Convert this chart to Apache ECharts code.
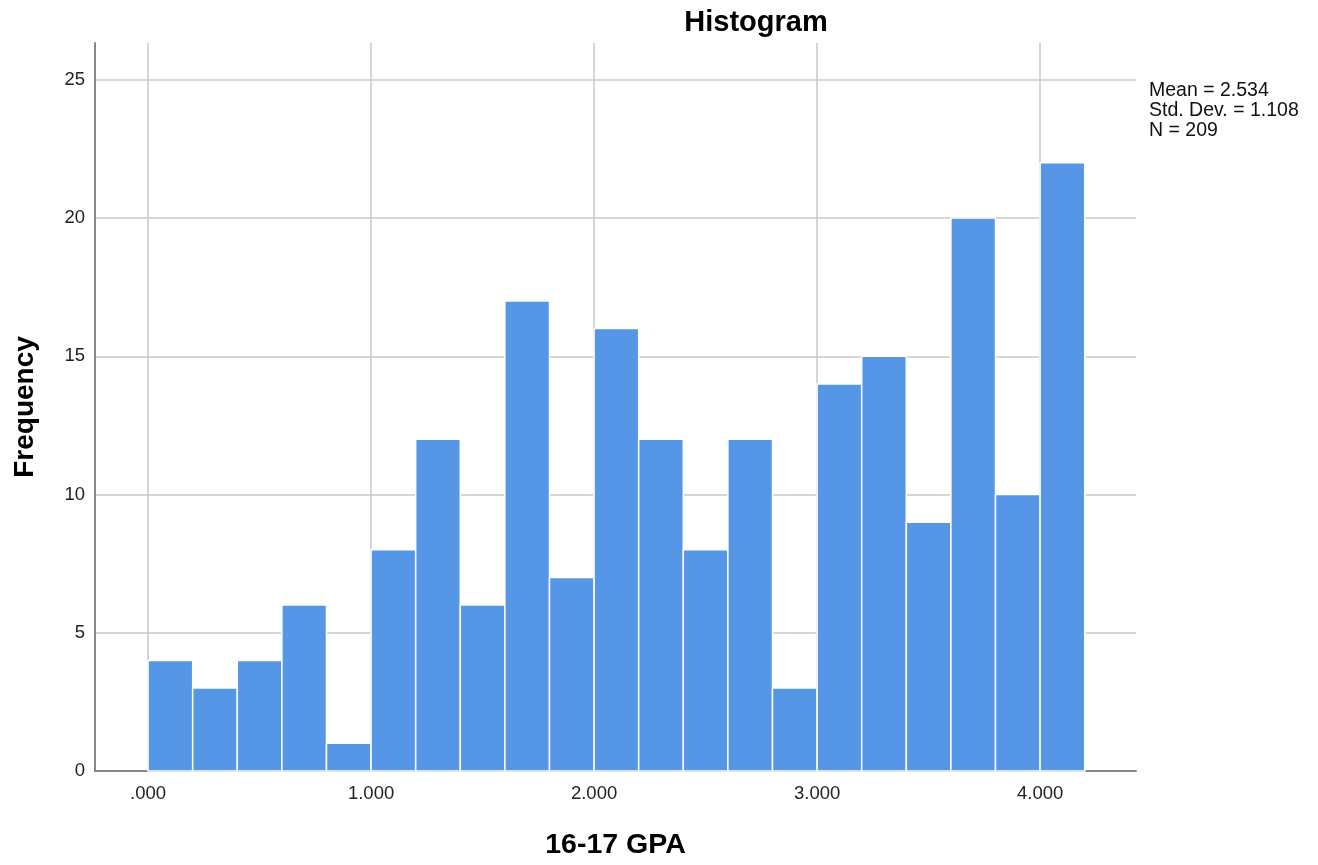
<!DOCTYPE html>
<html>
<head>
<meta charset="utf-8">
<script src="https://cdn.jsdelivr.net/npm/echarts@6/dist/echarts.min.js"></script>
<style>html,body{margin:0;padding:0;background:#fff}#c{width:1318px;height:865px}</style>
</head>
<body>
<div id="c"></div>
<script>
const binStarts = [0.0,0.2,0.4,0.6,0.8,1.0,1.2,1.4,1.6,1.8,2.0,2.2,2.4,2.6,2.8,3.0,3.2,3.4,3.6,3.8,4.0];
const binWidth = 0.2;
const frequencies = [4,3,4,6,1,8,12,6,17,7,16,12,8,12,3,14,15,9,20,10,22];
const xTicks = [0,1,2,3,4];
const yTicks = [0,5,10,15,20,25];
const statsLines = ['Mean = 2.534','Std. Dev. = 1.108','N = 209'];

const chart = echarts.init(document.getElementById('c'));
const fontFam = '"Liberation Sans", Arial, sans-serif';
chart.setOption({
  animation: false,
  backgroundColor: '#fff',
  title: {
    text: 'Histogram', left: 751, top: 3, textAlign: 'center',
    textStyle: {fontFamily: fontFam, fontSize: 29, fontWeight: 'bold', color: '#000'}
  },
  graphic: [{
    type: 'text', left: 1149, top: 81,
    style: {text: statsLines.join('\n'), fontFamily: fontFam, fontSize: 19.5, lineHeight: 20, fill: '#111'}
  }],
  grid: {left: 95, right: 182, top: 43, bottom: 90, containLabel: false},
  xAxis: {
    type: 'value', min: -0.238, max: 4.43,
    name: '16-17 GPA', nameLocation: 'middle', nameGap: 60,
    nameTextStyle: {fontFamily: fontFam, fontSize: 28.5, fontWeight: 'bold', color: '#000'},
    axisLine: {show: true, onZero: false, lineStyle: {color: '#888', width: 2}},
    axisTick: {show: false, customValues: xTicks},
    axisLabel: {
      customValues: xTicks, margin: 13,
      fontFamily: fontFam, fontSize: 18.5, color: '#222',
      formatter: v => v === 0 ? '.000' : v.toFixed(3)
    },
    splitLine: {show: true, lineStyle: {color: '#c8c8c8', width: 1.5}}
  },
  yAxis: {
    type: 'value', min: 0, max: 26.33, interval: 5,
    name: 'Frequency', nameLocation: 'middle', nameGap: 56,
    nameTextStyle: {fontFamily: fontFam, fontSize: 28, fontWeight: 'bold', color: '#000'},
    axisLine: {show: true, onZero: false, lineStyle: {color: '#888', width: 2}},
    axisTick: {show: false},
    axisLabel: {margin: 10, fontFamily: fontFam, fontSize: 18.5, color: '#222', showMaxLabel: false,
      formatter: v => yTicks.indexOf(v) >= 0 ? String(v) : ''},
    splitLine: {show: true, showMaxLine: false, lineStyle: {color: '#c8c8c8', width: 1.5}}
  },
  series: [{
    type: 'custom',
    data: binStarts.map((s, i) => [s, s + binWidth, frequencies[i]]),
    encode: {x: [0, 1], y: 2},
    renderItem: function (params, api) {
      const p0 = api.coord([api.value(0), api.value(2)]);
      const p1 = api.coord([api.value(1), 0]);
      return {
        type: 'rect',
        shape: {x: p0[0], y: p0[1], width: p1[0] - p0[0], height: p1[1] - p0[1]},
        style: {fill: '#5596e6', stroke: '#ffffff', lineWidth: 1.5}
      };
    }
  }]
});
</script>
</body>
</html>
